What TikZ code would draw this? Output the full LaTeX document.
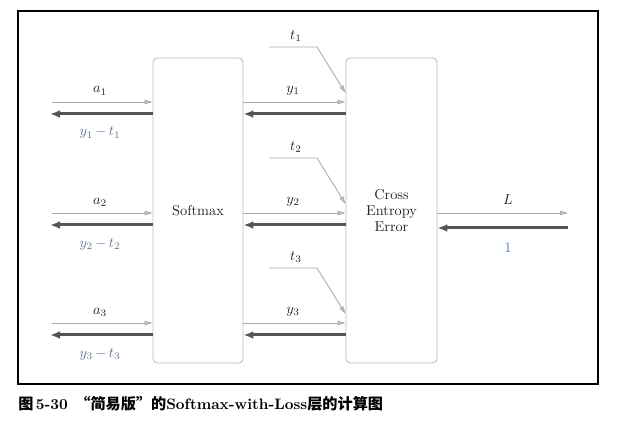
\documentclass[tikz,border=0pt]{standalone}
\usepackage{fontspec}
\newfontfamily\cjk{Noto Sans CJK SC}
\usetikzlibrary{arrows.meta}
\definecolor{boxc}{HTML}{BBBBBB}
\definecolor{thinc}{HTML}{AAAAAA}
\definecolor{thickc}{HTML}{555555}
\definecolor{fwdtxt}{HTML}{222222}
\definecolor{bwdtxt}{HTML}{5F7590}
\definecolor{onec}{HTML}{4A7FB0}
\begin{document}
\begin{tikzpicture}[x=0.7pt,y=-0.7pt,
  layer/.style={draw=boxc,line width=0.6pt,rounded corners=3pt,minimum width=63pt,minimum height=213.5pt,inner sep=0pt,align=center,text=fwdtxt},
  fwd/.style={draw=thinc,line width=0.6pt,-{Triangle[length=5.5pt,width=3pt,fill=thinc!60]}},
  bwd/.style={draw=thickc,line width=2.1pt,-{Latex[length=7pt,width=5.5pt]}},
  flab/.style={text=fwdtxt,inner sep=0pt},
  blab/.style={text=bwdtxt,inner sep=0pt}]
\useasboundingbox (0,0) rectangle (625,426);
\draw[line width=1pt] (18,11) rectangle (598,384);
\node[layer] (sm) at (198,210.5) {Softmax};
\node[layer,minimum width=63.7pt] (ce) at (391.5,210.5) {Cross\\[-1pt]Entropy\\[-1pt]Error};
% left side
\foreach \i/\dy in {1/0,2/111,3/221}{
  \coordinate (ain\i) at (52,102+\dy);
  \coordinate (aout\i) at (50,114+\dy);
  \draw[fwd] (ain\i) -- (sm.west |- ain\i);
  \draw[bwd] (sm.west |- aout\i) -- (aout\i);
  \node[flab] (al\i) at (100,91+\dy) {$a_{\i}$};
  \node[blab] (bl\i) at (100,133+\dy) {$y_{\i}\mkern-1mu-\mkern-1mu t_{\i}$};
  % middle
  \draw[fwd] (sm.east |- ain\i) -- (ce.west |- ain\i);
  \draw[bwd] (ce.west |- aout\i) -- (sm.east |- aout\i);
  \node[flab] (yl\i) at (293,91+\dy) {$y_{\i}$};
  % t inputs
  \coordinate (ts\i) at (269,47+\dy);
  \coordinate (tk\i) at (317,47+\dy);
  \coordinate (te\i) at (346,93+\dy);
  \draw[fwd] (ts\i) -- (tk\i) -- (ce.west |- te\i);
  \node[flab] (tl\i) at (296,36+\dy) {$t_{\i}$};
}
% right side
\coordinate (Lout) at (568,213);
\coordinate (Lin) at (568,228);
\draw[fwd] (ce.east |- Lout) -- (Lout);
\draw[bwd] (Lin) -- (ce.east |- Lin);
\node[flab] (Ll) at (508,200) {$L$};
\node[text=onec,inner sep=0pt] (one) at (508,248) {1};
% caption
\node[anchor=west,inner sep=0pt,font=\fontsize{10.6}{13}\selectfont] (cap) at (18,404) {{\cjk\bfseries 图}\,\textbf{5-30}\enspace{\cjk\bfseries “简易版”的}\textbf{Softmax-with-Loss}{\cjk\bfseries 层的计算图}};
\end{tikzpicture}
\end{document}
